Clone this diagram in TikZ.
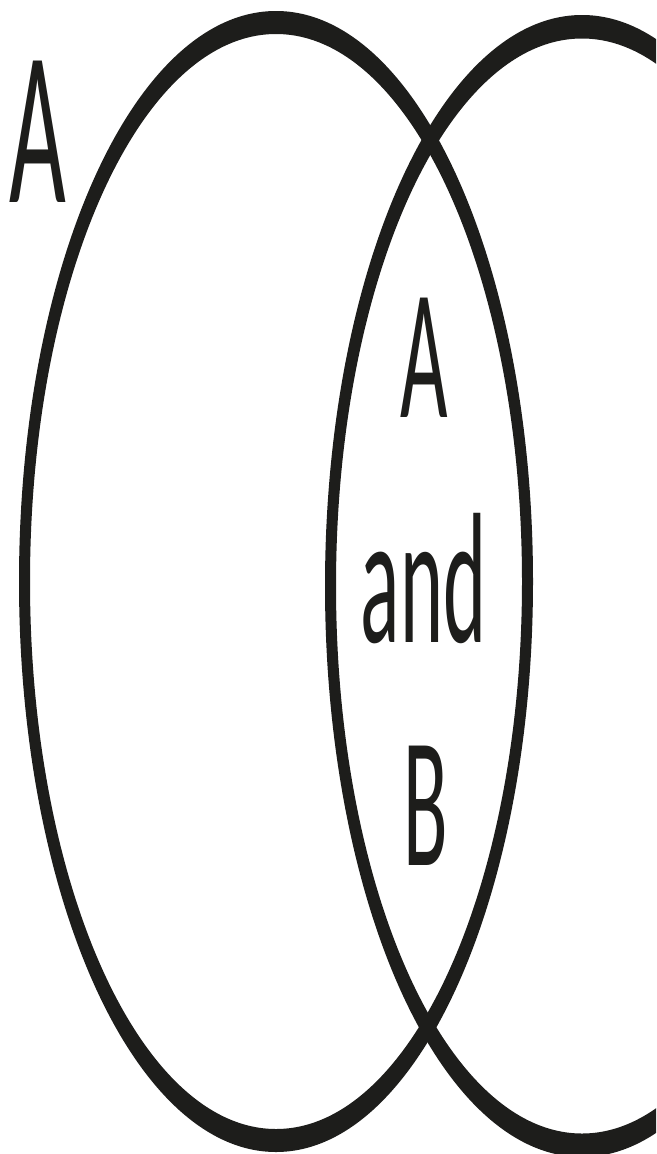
\documentclass[tikz,border=0pt]{standalone}
\usepackage{fontspec}
\setmainfont{Carlito}
\usepackage{graphicx}
\definecolor{ink}{HTML}{1D1D1B}
\tikzset{
  ring/.style={fill=ink, even odd rule},
  lbl/.style={inner sep=0pt, outer sep=0pt, anchor=base, text=ink},
}
\newcommand{\stretchtxt}[3]{\scalebox{1}[#2]{\fontsize{#1}{#1}\selectfont #3}}
\begin{document}
\begin{tikzpicture}[x=1pt, y=-1pt]
\useasboundingbox (0,0) rectangle (656,1154);
\fill[white] (0,0) rectangle (656,1154);
\clip (0,0) rectangle (656,1154);
% left set
\fill[ring] (276,581.5) ellipse [x radius=257pt, y radius=570.5pt]
            (276,581.5) ellipse [x radius=246pt, y radius=547.5pt];
% right set
\fill[ring] (582,586) ellipse [x radius=257pt, y radius=571pt]
            (582,586) ellipse [x radius=246pt, y radius=547.5pt];
% labels
\node[lbl] (setA) at (38,202) {\stretchtxt{98}{2.25}{A}};
\node[lbl] (midA) at (424.5,417) {\stretchtxt{82}{2.27}{A}};
\node[lbl] (midand) at (423.5,642) {\stretchtxt{82}{2.27}{and}};
\node[lbl] (midB) at (425.5,865) {\stretchtxt{82}{2.27}{B}};
\end{tikzpicture}
\end{document}
